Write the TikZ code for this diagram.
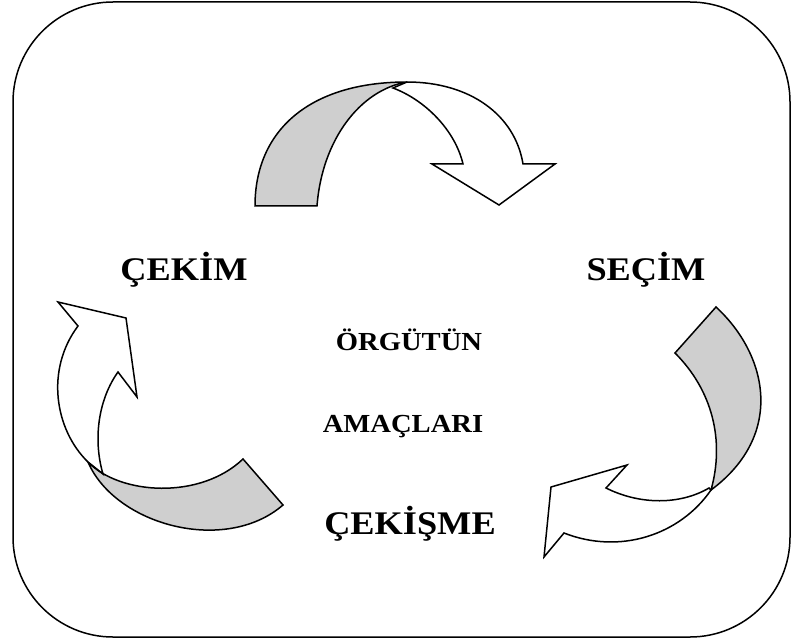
\documentclass[tikz,border=0pt]{standalone}
\usepackage{fontspec}
\setmainfont{Liberation Serif}
\begin{document}
\begin{tikzpicture}[x=1pt,y=-1pt,
  frame/.style={draw=black,line width=1.5pt,rounded corners=100pt},
  backside/.style={draw=black,line width=1.5pt,fill=black!19,line join=miter},
  frontside/.style={draw=black,line width=1.5pt,fill=white,line join=miter},
  biglbl/.style={font=\bfseries\fontsize{33}{38}\selectfont,anchor=base,inner sep=0pt},
  smalllbl/.style={font=\bfseries\fontsize{26}{30}\selectfont,anchor=base,inner sep=0pt}]
\useasboundingbox (0,0) rectangle (791,644);

% outer frame
\draw[frame] (13,2) rectangle (790,637);

% top ribbon arrow: shaded back, white front with head
\draw[backside] (255,206) .. controls (255,130) and (310,82) .. (407,82)
  .. controls (360,90) and (322,140) .. (317,206) -- cycle;
\draw[frontside] (393,88) -- (407,82) .. controls (470,82) and (515,115) .. (523,164)
  -- (555,164) -- (499,205) -- (432,164) -- (463,164)
  .. controls (455,130) and (425,100) .. cycle;

% right ribbon arrow
\draw[backside] (716,307) .. controls (768,355) and (785,435) .. (711,490)
  .. controls (725,440) and (712,390) .. (675,353) -- cycle;
\draw[frontside] (709,488) -- (711,490) .. controls (680,535) and (620,555) .. (564,533)
  -- (544,557) -- (551,487) -- (627,465) -- (606,488)
  .. controls (640,505) and (680,505) .. cycle;

% left ribbon arrow
\draw[backside] (88,462) .. controls (115,525) and (225,555) .. (283,505)
  -- (243,459) .. controls (200,500) and (120,495) .. cycle;
\draw[frontside] (103,474) -- (88,462) .. controls (55,430) and (45,370) .. (78,326)
  -- (58,302) -- (126,318) -- (137,397) -- (118,372)
  .. controls (98,400) and (93,440) .. cycle;

% labels
\node[biglbl] (cekim) at (184,280) {\scalebox{1.1}[1]{ÇEKİM}};
\node[biglbl] (secim) at (646,280) {\scalebox{1.1}[1]{SEÇİM}};
\node[biglbl] (cekisme) at (410,534) {\scalebox{1.1}[1]{ÇEKİŞME}};
\node[smalllbl] (orgut) at (409,350) {\scalebox{1.1}[1]{ÖRGÜTÜN}};
\node[smalllbl] (amac) at (403,432) {\scalebox{1.1}[1]{AMAÇLARI}};
\end{tikzpicture}
\end{document}
